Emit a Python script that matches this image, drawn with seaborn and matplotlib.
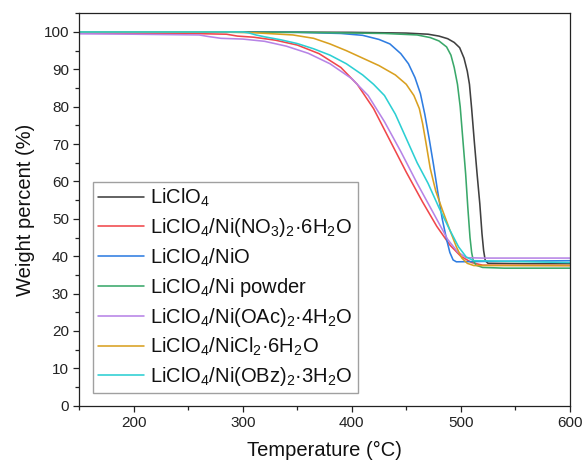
import numpy as np
import pandas as pd
import matplotlib
matplotlib.use("Agg")
import matplotlib.pyplot as plt
import seaborn as sns
from matplotlib.ticker import MultipleLocator

# ---------------- data ----------------
labels = [
    "LiClO$_4$",
    "LiClO$_4$/Ni(NO$_3$)$_2$·6H$_2$O",
    "LiClO$_4$/NiO",
    "LiClO$_4$/Ni powder",
    "LiClO$_4$/Ni(OAc)$_2$·4H$_2$O",
    "LiClO$_4$/NiCl$_2$·6H$_2$O",
    "LiClO$_4$/Ni(OBz)$_2$·3H$_2$O",
]
colors = ["#404040", "#f0474b", "#2f7de1", "#3aa86a", "#b784e6", "#d9a020", "#2ccfd3"]

T_black = [150, 300, 400, 450, 470, 480, 488, 494, 499, 503, 506, 508, 510, 512.5, 515, 517.5, 519.5, 521, 522.5, 525, 560, 600]
W_black = [100, 100, 99.9, 99.7, 99.4, 98.9, 98.2, 97.2, 95.8, 93, 89.5, 86, 79.5, 70.5, 62, 54, 46, 41.5, 38.8, 38.1, 38.0, 38.0]

T_red = [150, 250, 285, 295, 310, 330, 350, 370, 390, 405, 420, 435, 450, 465, 478, 490, 500, 510, 520, 600]
W_red = [99.7, 99.6, 99.4, 98.9, 98.6, 97.8, 96.5, 94.2, 90.5, 86, 79.5, 71, 62.5, 54.5, 48, 43, 40, 38.3, 37.6, 37.5]

T_blue = [150, 350, 390, 410, 425, 435, 445, 452, 458, 463, 467, 471, 475, 479, 483, 487, 490, 493, 496, 520, 600]
W_blue = [100, 99.9, 99.6, 99.1, 98, 96.8, 94.2, 91.5, 87.8, 83.5, 78, 71.5, 64.5, 57, 50, 44.5, 41, 39, 38.5, 38.6, 38.8]

T_green = [150, 350, 430, 460, 472, 480, 487, 491, 494, 497, 499.5, 502, 504.5, 506.5, 508.5, 510, 511.5, 514, 520, 540, 600]
W_green = [100, 99.9, 99.6, 99.2, 98.5, 97.6, 96, 93.8, 90.5, 86, 80, 71, 62, 53, 45, 41, 38.8, 37.6, 37.0, 36.8, 36.8]

T_purple = [150, 200, 260, 268, 280, 300, 320, 340, 360, 380, 400, 415, 430, 445, 460, 475, 488, 497, 505, 520, 600]
W_purple = [99.5, 99.4, 99.2, 98.8, 98.3, 98.1, 97.5, 96.2, 94.3, 91.5, 87.5, 83, 76, 68, 59.5, 51.5, 44.5, 41.2, 39.6, 39.5, 39.5]

T_orange = [150, 280, 310, 346, 365, 380, 395, 410, 425, 440, 450, 457, 462, 465, 468, 472, 477, 483, 490, 496, 501, 506, 512, 600]
W_orange = [100, 100, 99.8, 99.2, 98.3, 96.8, 95, 93, 91, 88.5, 86, 83, 79.5, 75.5, 70.5, 63.5, 57.5, 52.5, 47, 42.5, 39.5, 38.1, 37.5, 37.5]

T_cyan = [150, 300, 305, 312, 320, 335, 350, 365, 380, 395, 410, 420, 430, 440, 450, 460, 470, 480, 490, 498, 505, 512, 600]
W_cyan = [100, 100, 99.8, 99.2, 98.7, 97.9, 96.9, 95.5, 93.8, 91.5, 88.5, 86, 83, 78, 71.5, 65, 59.5, 53, 47, 42.5, 39.8, 38.8, 38.3]

series_T = [T_black, T_red, T_blue, T_green, T_purple, T_orange, T_cyan]
series_W = [W_black, W_red, W_blue, W_green, W_purple, W_orange, W_cyan]

frames = [pd.DataFrame({"Temperature": t, "Weight": w, "Sample": lab})
          for t, w, lab in zip(series_T, series_W, labels)]
df = pd.concat(frames, ignore_index=True)

# ---------------- style ----------------
sns.set_theme(style="white")
plt.rcParams["font.family"] = ["Liberation Sans", "DejaVu Sans"]
plt.rcParams["mathtext.default"] = "regular"

fig = plt.figure(figsize=(5.82, 4.66), dpi=100)
ax = fig.add_axes([0.1363, 0.1294, 0.8426, 0.8421])

sns.lineplot(data=df, x="Temperature", y="Weight", hue="Sample",
             palette=dict(zip(labels, colors)), hue_order=labels,
             estimator=None, sort=True, linewidth=1.15, ax=ax)

ax.set_xlim(150, 600)
ax.set_ylim(0, 105)
ax.xaxis.set_major_locator(MultipleLocator(100))
ax.xaxis.set_minor_locator(MultipleLocator(50))
ax.yaxis.set_major_locator(MultipleLocator(10))
ax.yaxis.set_minor_locator(MultipleLocator(5))
ax.tick_params(axis="both", which="major", direction="out", length=4.5, width=0.9,
               color="#222222", labelsize=11, labelcolor="#222222", pad=3,
               bottom=True, left=True, top=False, right=False)
ax.tick_params(axis="both", which="minor", direction="out", length=3, width=0.9,
               color="#222222", bottom=True, left=True, top=False, right=False)
for s in ax.spines.values():
    s.set_color("#222222")
    s.set_linewidth(0.9)

ax.set_xlabel("Temperature (°C)", fontsize=14.5, color="#111111", labelpad=8)
ax.set_ylabel("Weight percent (%)", fontsize=14.5, color="#111111", labelpad=6)

leg = ax.legend(loc="upper left", bbox_to_anchor=(0.028, 0.570), borderaxespad=0,
                fontsize=14.5, frameon=True, fancybox=False, framealpha=1,
                edgecolor="#a0a0a0", handlelength=2.3, handletextpad=0.3,
                labelspacing=0.35, borderpad=0.25)
leg.get_frame().set_linewidth(1.0)
for h in leg.get_lines():
    h.set_linewidth(1.15)
for t in leg.get_texts():
    t.set_color("#111111")

fig.savefig("out.png", dpi=100)
